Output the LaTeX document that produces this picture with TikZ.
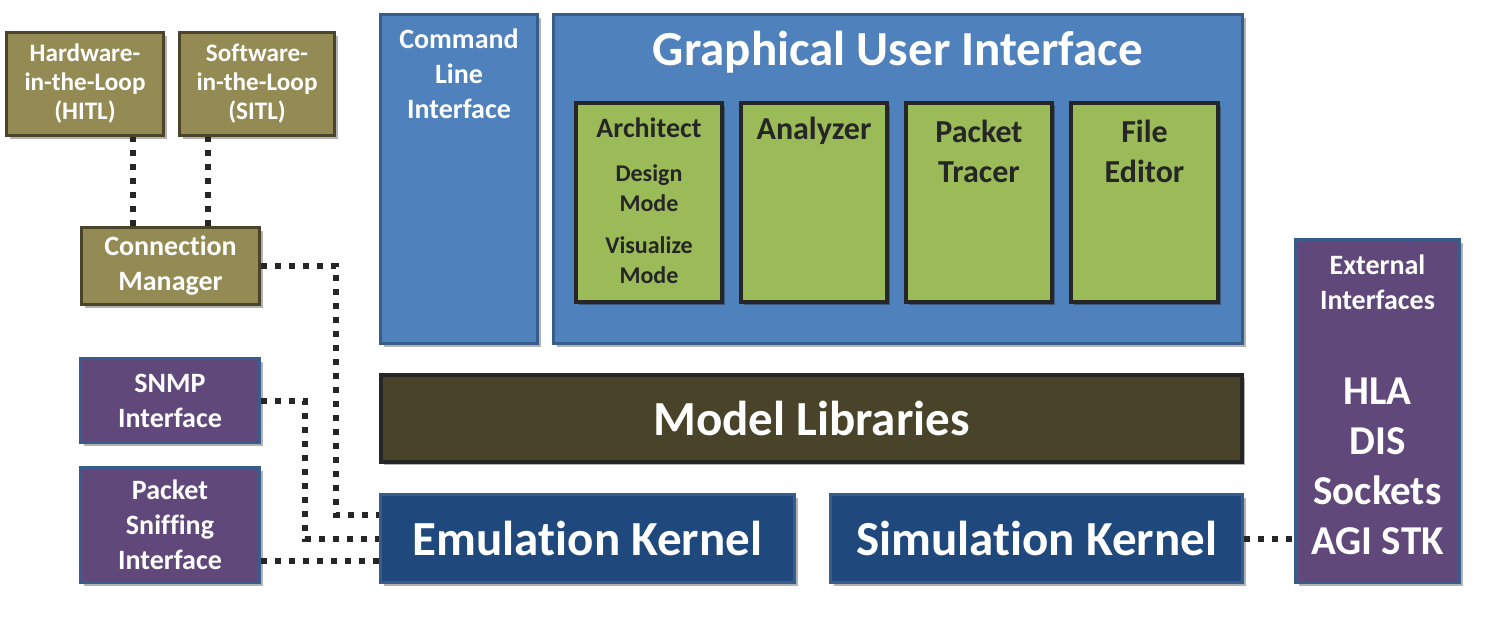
\documentclass[tikz,border=0pt]{standalone}
\usepackage{fontspec}
\setmainfont{Carlito}[Ligatures=NoCommon]
\usepackage{tikz}
\usetikzlibrary{shadows,calc}
\definecolor{olive}{RGB}{148, 138, 84}
\definecolor{darkolive}{RGB}{74, 69, 42}
\definecolor{grape}{RGB}{96, 73, 122}
\definecolor{steel}{RGB}{56, 93, 138}
\definecolor{sky}{RGB}{79, 129, 189}
\definecolor{navy}{RGB}{31, 73, 125}
\definecolor{leaf}{RGB}{155, 187, 89}
\definecolor{mud}{RGB}{73, 68, 41}
\definecolor{ink}{RGB}{38, 38, 38}
\tikzset{
  box/.style        = {rectangle, draw, line width=1.5pt, inner sep=0pt, align=center, text=white, font=\bfseries,
                       drop shadow={shadow xshift=1.6pt, shadow yshift=-1.6pt, opacity=0.3, fill=black}},
  olivebox/.style   = {box, draw=darkolive, fill=olive},
  grapebox/.style   = {box, draw=steel,     fill=grape},
  skybox/.style     = {box, draw=steel,     fill=sky},
  navybox/.style    = {box, draw=steel,     fill=navy},
  mudbox/.style     = {box, draw=ink,       fill=mud, line width=2pt},
  leafbox/.style    = {box, draw=ink,       fill=leaf, line width=2pt},
  boxtext/.style    = {align=center, text=white, inner sep=0pt},
  leaftext/.style   = {boxtext, text=ink},
  sizeS/.style      = {font=\bfseries\fontsize{12.6}{14.5}\selectfont},
  sizeSM/.style     = {font=\bfseries\fontsize{12}{15}\selectfont},
  sizeM/.style      = {font=\bfseries\fontsize{14}{17.5}\selectfont},
  sizeL/.style      = {font=\bfseries\fontsize{16}{20}\selectfont},
  sizeXL/.style     = {font=\bfseries\fontsize{20.5}{25}\selectfont},
  sizeXXL/.style    = {font=\bfseries\fontsize{24.5}{29}\selectfont},
  link/.style       = {draw=ink, line width=3pt, dash pattern=on 3pt off 4pt},
}
\begin{document}
\begin{tikzpicture}[x=0.5pt, y=-0.5pt]
            \useasboundingbox (0,0) rectangle (1489,618);
            \node[olivebox, sizeS,   minimum width=78.5pt,  minimum height=51.5pt]  (hitl)   at (  85.0,  84.0) {Hardware-\\in-the-Loop\\(HITL)};
            \node[olivebox, sizeS,   minimum width=77.5pt,  minimum height=51.5pt]  (sitl)   at ( 257.0,  84.0) {Software-\\in-the-Loop\\(SITL)};
            \node[olivebox, sizeM,   minimum width=89.0pt,  minimum height=38.5pt]  (conn)   at ( 170.5, 266.0) {Connection\\Manager};
            \node[grapebox, sizeM,   minimum width=89.5pt,  minimum height=42.0pt]  (snmp)   at ( 170.0, 400.5) {SNMP\\Interface};
            \node[grapebox, sizeM,   minimum width=89.5pt,  minimum height=57.5pt]  (sniff)  at ( 170.0, 525.0) {Packet\\Sniffing\\Interface};
            \node[skybox,            minimum width=78.5pt,  minimum height=164.5pt] (cli)    at ( 459.0, 179.0) {};
            \node[skybox,            minimum width=344.5pt, minimum height=164.5pt] (gui)    at ( 898.0, 179.0) {};
            \node[leafbox,           minimum width=73.0pt,  minimum height=99.5pt]  (arch)   at ( 649.0, 202.5) {};
            \node[leafbox,           minimum width=73.0pt,  minimum height=99.5pt]  (anlz)   at ( 814.0, 202.5) {};
            \node[leafbox,           minimum width=73.0pt,  minimum height=99.5pt]  (tracer) at ( 979.0, 202.5) {};
            \node[leafbox,           minimum width=73.5pt,  minimum height=99.5pt]  (editor) at (1144.5, 202.5) {};
            \node[mudbox,   sizeXXL, minimum width=430.5pt, minimum height=43.5pt]  (models) at ( 811.5, 418.5) {Model Libraries};
            \node[navybox,  sizeXXL, minimum width=207.0pt, minimum height=44.0pt]  (emul)   at ( 587.5, 538.5) {Emulation Kernel};
            \node[navybox,  sizeXXL, minimum width=206.0pt, minimum height=44.0pt]  (simul)  at (1036.5, 538.5) {Simulation Kernel};
            \node[grapebox,          minimum width=82.0pt,  minimum height=171.5pt] (ext)    at (1377.5, 411.0) {};

            \node[boxtext,  sizeM]   (clitext)  at ( 459.0,  74.0) {Command\\Line\\Interface};
            \node[boxtext,  sizeXXL] (guitext)  at ( 898.0,  52.0) {Graphical User Interface};
            \node[leaftext, sizeM]   (archtext) at ( 649.0, 128.0) {Architect};
            \node[leaftext, sizeSM]  (design)   at ( 649.0, 188.0) {Design\\Mode};
            \node[leaftext, sizeSM]  (visual)   at ( 649.0, 260.0) {Visualize\\Mode};
            \node[leaftext, sizeL]   (anlztext) at ( 814.0, 131.0) {Analyzer};
            \node[leaftext, sizeL]   (trctext)  at ( 979.0, 151.0) {Packet\\Tracer};
            \node[leaftext, sizeL]   (edittext) at (1144.5, 151.0) {File\\Editor};
            \node[boxtext,  sizeM]   (exttext)  at (1377.5, 282.0) {External\\Interfaces};
            \node[boxtext,  sizeXL]  (protos)   at (1377.5, 466.0) {HLA\\DIS\\Sockets\\AGI STK};

            \coordinate (hitlin)  at ($(conn.north)+(-37.5,0)$);
            \coordinate (sitlin)  at ($(conn.north)+( 37.5,0)$);
            \coordinate (connin)  at ($(emul.west)+(0,-23.5)$);
            \coordinate (sniffin) at ($(emul.west)+(0, 22.5)$);
            \draw[link] (hitlin) -- (hitlin |- hitl.south);
            \draw[link] (sitlin) -- (sitlin |- sitl.south);
            \draw[link] (conn.east) -| ($(connin)+(-43,0)$) -- (connin);
            \draw[link] (snmp.east) -| ($(emul.west)+(-74,0)$) -- (emul.west);
            \draw[link] (sniffin) -- (sniffin -| sniff.east);
            \draw[link] (simul.east) -- (simul.east -| ext.west);
        \end{tikzpicture}
\end{document}
